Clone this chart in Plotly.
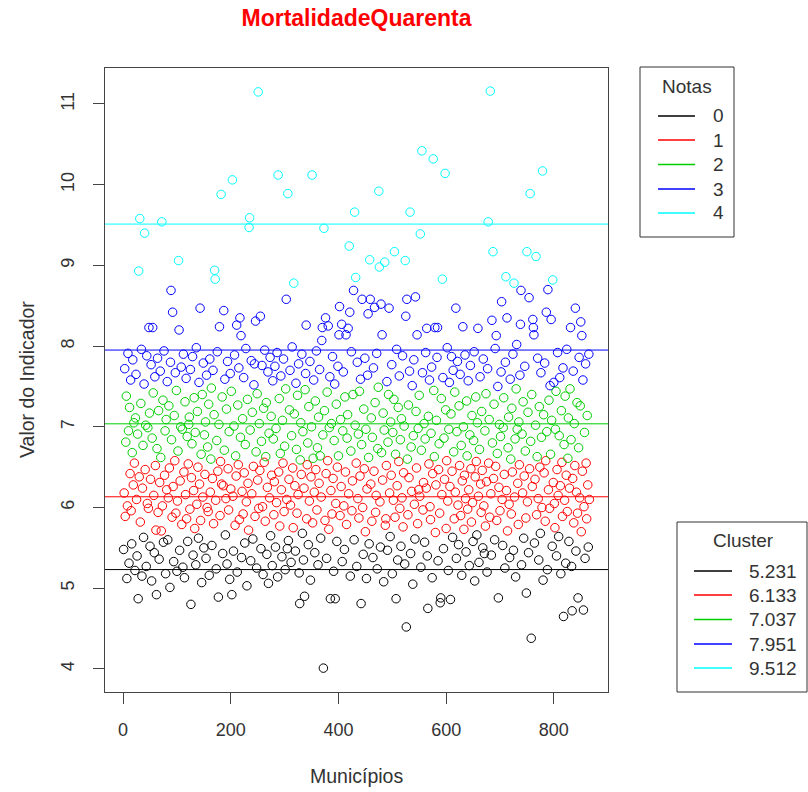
import plotly.graph_objects as go

titulo = "MortalidadeQuarenta"
eixo_x = "Municípios"
eixo_y = "Valor do Indicador"
notas = ["0", "1", "2", "3", "4"]
centros = [5.231, 6.133, 7.037, 7.951, 9.512]
cores = ["#000000", "#FF0000", "#00CD00", "#0000FF", "#00FFFF"]
x_ticks = [0, 200, 400, 600, 800]
y_ticks = [4, 5, 6, 7, 8, 9, 10, 11]

valores = [
    5.48, 6.18, 7.72, 5.89, 6.81, 7.38, 5.12, 6.02, 7.91, 6.95,
    5.31, 7.24, 6.42, 7.58, 5.96, 5.55, 6.68, 7.83, 6.28, 7.05,
    6.55, 5.22, 7.11, 7.65, 6.10, 5.40, 6.91, 4.87, 8.93, 6.38,
    9.58, 5.82, 7.29, 7.96, 5.15, 6.24, 6.77, 5.63, 7.53, 9.40,
    6.47, 7.02, 5.27, 7.88, 6.05, 6.99, 5.99, 8.23, 7.17, 5.52,
    6.35, 7.77, 5.09, 6.86, 8.23, 7.42, 6.15, 5.44, 7.62, 6.52, 5.72,
    4.92, 6.73, 7.85, 5.94, 7.20, 5.36, 6.31, 7.69, 6.62, 5.71,
    9.54, 6.02, 7.33, 5.57, 7.94, 6.40, 6.95, 5.18, 7.09, 6.22,
    7.56, 5.60, 6.12, 7.26, 6.49, 5.01, 7.80, 8.69, 6.84, 5.88,
    8.42, 6.26, 5.33, 7.14, 6.58, 7.67, 5.93, 7.45, 5.21, 6.08,
    6.70, 9.06, 8.20, 5.47, 6.33, 7.00, 7.74, 5.79, 6.97, 5.26,
    7.90, 6.44, 5.13, 7.31, 6.16, 7.60, 5.86, 6.88, 5.58, 6.54, 7.03,
    7.12, 5.98, 7.71, 4.80, 6.37, 6.79, 7.87, 5.41, 6.21, 7.36,
    5.74, 6.93, 5.29, 7.98, 6.04, 7.19, 6.50, 5.62, 7.55, 6.29,
    8.47, 5.84, 6.66, 5.07, 7.40, 6.13, 7.79, 5.50, 6.90, 6.41,
    7.06, 5.37, 7.64, 6.00, 6.75, 5.95, 7.28, 5.16, 7.84, 6.19,
    6.60, 7.48, 5.53, 6.36, 7.70, 5.80, 7.15, 8.94, 8.83, 6.09,
    5.24, 6.83, 7.93, 6.45, 4.89, 7.03, 8.24, 5.90, 6.57, 9.88, 6.29,
    7.37, 5.43, 6.27, 8.44, 6.71, 7.59, 5.66, 6.11, 7.22, 5.30,
    7.81, 6.48, 5.97, 6.94, 5.11, 7.66, 6.23, 7.44, 4.92, 10.06,
    6.14, 5.46, 7.01, 7.89, 5.78, 6.64, 6.39, 8.26, 5.20, 7.27,
    6.53, 7.73, 5.85, 8.35, 6.87, 8.13, 5.38, 6.20, 7.10, 5.92,
    7.61, 6.43, 5.56, 6.78, 7.97, 6.07, 5.03, 7.34, 6.30, 5.72,
    9.47, 9.59, 6.96, 5.34, 7.82, 6.17, 7.18, 5.61, 6.51, 7.52, 7.78,
    5.89, 8.31, 6.69, 5.25, 7.41, 6.34, 11.15, 5.99, 7.04, 6.46,
    8.37, 5.49, 6.82, 7.76, 6.01, 5.17, 7.23, 6.56, 7.95, 5.83,
    6.63, 7.30, 5.42, 6.25, 7.68, 5.06, 6.92, 6.12, 7.86, 5.65,
    7.13, 6.40, 5.28, 7.57, 6.85, 5.91, 6.32, 7.75, 5.51, 6.98,
    6.06, 7.92, 5.14, 10.12, 6.44, 7.35, 5.77, 6.67, 7.63, 6.22,
    5.39, 7.08, 6.55, 7.84, 5.95, 6.76, 5.23, 7.47, 8.58, 6.10, 5.49,
    9.89, 5.59, 6.35, 7.21, 7.70, 6.03, 5.32, 6.89, 7.99, 6.49,
    5.75, 8.78, 7.16, 6.27, 5.46, 7.54, 6.72, 5.93, 7.39, 6.16,
    7.78, 5.19, 4.81, 6.59, 7.05, 6.41, 7.90, 5.68, 6.94, 5.35,
    6.24, 4.90, 7.46, 7.66, 8.26, 5.86, 6.53, 6.80, 5.54, 7.25,
    6.08, 7.81, 5.10, 6.38, 7.00, 10.12, 5.81, 6.61, 7.58, 6.19,
    5.44, 7.32, 6.47, 7.94, 5.97, 6.74, 5.29, 7.12, 6.30, 7.71, 6.64,
    5.62, 6.13, 8.07, 8.23, 6.90, 4.01, 9.46, 7.20, 5.84, 8.35,
    6.42, 5.37, 7.43, 6.58, 8.25, 5.73, 6.99, 7.62, 4.87, 6.21,
    7.04, 5.92, 7.87, 6.36, 5.21, 6.83, 7.53, 4.87, 6.05, 7.28,
    5.58, 6.50, 7.75, 6.64, 8.14, 8.49, 5.90, 7.09, 6.26, 8.27,
    5.33, 6.95, 7.68, 6.02, 5.48, 7.37, 6.44, 8.14, 5.79, 6.86,
    7.15, 8.22, 6.17, 9.24, 8.42, 5.15, 6.70, 7.93, 5.96, 6.33, 7.40,
    8.69, 5.60, 9.66, 7.02, 8.85, 6.55, 5.27, 7.80, 6.11, 6.91,
    5.87, 7.44, 6.39, 7.59, 4.81, 6.78, 8.58, 6.00, 5.42, 7.22,
    6.48, 7.85, 5.70, 6.97, 5.12, 6.23, 7.64, 8.40, 6.62, 5.55,
    9.07, 8.58, 6.29, 7.11, 5.83, 6.87, 5.38, 7.73, 6.45, 8.48,
    7.30, 5.94, 6.15, 7.91, 5.24, 6.73, 7.49, 9.92, 8.98, 6.07,
    5.51, 8.52, 6.68, 8.14, 6.34, 7.17, 5.08, 6.96, 9.04, 5.78, 5.86,
    6.52, 7.56, 5.47, 6.81, 7.40, 8.47, 6.18, 5.64, 7.06, 6.40,
    7.77, 5.18, 6.93, 6.09, 7.34, 9.17, 5.88, 6.66, 4.87, 7.96,
    6.27, 5.35, 7.24, 6.57, 7.63, 5.99, 6.84, 5.52, 7.10, 6.12,
    7.88, 5.76, 6.43, 7.01, 5.30, 9.06, 8.37, 4.52, 8.58, 6.60,
    5.91, 7.27, 6.37, 7.69, 9.66, 5.43, 6.75, 6.20, 7.51, 5.05,
    6.89, 7.83, 6.04, 5.61, 8.61, 7.19, 6.49, 8.14, 5.80, 6.98, 6.22,
    7.39, 6.14, 9.39, 5.26, 6.71, 10.42, 7.67, 5.97, 6.31, 7.04,
    5.57, 6.85, 7.92, 6.24, 8.22, 5.40, 4.75, 7.13, 6.54, 7.58,
    6.01, 5.85, 6.92, 7.74, 5.13, 6.42, 10.32, 7.45, 6.63, 8.23,
    5.69, 6.28, 7.08, 7.86, 8.23, 5.34, 6.47, 6.79, 5.93, 4.82,
    4.88, 7.35, 6.16, 8.83, 7.61, 5.49, 6.86, 6.35, 10.14, 7.21,
    5.74, 6.58, 7.98, 6.08, 5.22, 6.97, 7.55, 6.26, 4.86, 7.16, 7.87,
    6.45, 5.63, 7.70, 6.69, 5.86, 7.43, 6.19, 8.47, 5.37, 6.94,
    7.81, 6.03, 5.54, 7.26, 6.52, 7.65, 5.90, 6.77, 5.16, 6.33,
    8.24, 7.00, 5.73, 6.40, 7.89, 6.11, 5.45, 7.32, 6.64, 5.98,
    7.57, 6.22, 5.28, 6.90, 7.76, 6.48, 5.82, 7.14, 6.06, 5.58,
    6.83, 7.93, 5.09, 6.38, 7.37, 6.57, 5.66, 7.05, 8.22, 6.14,
    5.32, 6.72, 7.62, 6.29, 5.94, 7.19, 6.46, 5.50, 7.84, 6.02, 5.43,
    6.95, 5.77, 7.41, 6.32, 5.20, 7.72, 9.54, 6.55, 7.09, 5.88,
    11.16, 6.17, 5.41, 8.32, 6.80, 9.17, 6.36, 7.28, 5.60, 7.97,
    6.51, 8.13, 5.84, 6.67, 7.50, 4.88, 6.25, 7.03, 5.96, 6.88,
    7.68, 8.55, 6.10, 5.53, 6.99, 7.36, 6.41, 5.25, 7.80, 8.86,
    6.21, 8.35, 5.71, 6.74, 7.12, 6.04, 5.38, 7.59, 6.60, 5.92,
    7.23, 6.44, 7.90, 5.47, 8.78, 6.13, 6.85, 5.14, 7.47, 8.02, 6.97,
    6.30, 5.79, 7.06, 6.53, 7.64, 8.27, 8.69, 5.29, 6.91, 6.18,
    7.31, 5.62, 6.39, 7.75, 6.70, 5.87, 4.94, 9.17, 6.07, 7.18,
    5.44, 8.60, 6.48, 9.89, 6.82, 4.38, 7.40, 6.26, 8.33, 8.23,
    8.14, 5.56, 6.35, 7.02, 9.11, 5.91, 6.63, 7.85, 6.11, 5.35,
    7.25, 6.50, 5.68, 7.67, 6.87, 6.00, 10.17, 5.10, 7.15, 6.43,
    7.79, 5.83, 6.58, 8.42, 6.94, 5.23, 8.70, 6.22, 7.33, 5.99, 7.51,
    6.66, 8.33, 7.08, 5.52, 8.82, 6.31, 7.55, 6.05, 5.75, 6.97,
    7.44, 5.40, 6.47, 7.92, 6.15, 5.64, 6.89, 7.61, 6.27, 5.18,
    7.20, 6.56, 5.89, 7.73, 4.65, 6.78, 6.09, 7.38, 5.31, 6.40,
    7.96, 5.95, 6.61, 7.11, 5.58, 6.24, 7.47, 8.23, 6.84, 5.27,
    4.72, 6.36, 7.69, 5.81, 7.04, 6.52, 8.47, 5.46, 6.19, 7.30,
    5.93, 4.88, 6.74, 7.86, 6.12, 7.26, 8.30, 5.70, 8.13, 6.45,
    7.58, 4.73, 6.01, 6.93, 5.37, 7.78, 6.55, 5.86, 7.14, 6.28,
    5.51, 7.90, 6.10,
]

municipios = list(range(1, len(valores) + 1))


def grupo(v):
    return min(range(len(centros)), key=lambda k: abs(v - centros[k]))


cor_pontos = [cores[grupo(v)] for v in valores]

# plot region in pixels (left, right, top, bottom)
L, R, T, B = 105, 608, 68, 692
W, H = 808, 792


def px(x):
    return (x - L) / (R - L)


def py(y):
    return (B - y) / (B - T)


FONT = "Liberation Sans, Arial, sans-serif"
TXT = "#333333"

fig = go.Figure()
fig.add_trace(go.Scatter(
    x=municipios, y=valores, mode="markers",
    marker=dict(symbol="circle-open", size=8.5, color=cor_pontos,
                line=dict(width=1, color=cor_pontos)),
    showlegend=False, hoverinfo="x+y",
))

shapes = []
annotations = []

# cluster centre lines
for c, cor in zip(centros, cores):
    shapes.append(dict(type="line", xref="paper", yref="y", x0=0, x1=1,
                       y0=c, y1=c, line=dict(color=cor, width=1), layer="below"))


def legenda(box, titulo_leg, titulo_pos, linhas_x, linhas_y, textos, texto_x, anchor):
    x0, x1, y0, y1 = box
    shapes.append(dict(type="rect", xref="paper", yref="paper",
                       x0=px(x0), x1=px(x1), y0=py(y1), y1=py(y0),
                       line=dict(color="#333333", width=1), fillcolor="white"))
    annotations.append(dict(text=titulo_leg, xref="paper", yref="paper",
                            x=px(titulo_pos[0]), y=py(titulo_pos[1]),
                            xanchor="center", yanchor="middle", showarrow=False,
                            font=dict(family=FONT, size=19, color=TXT)))
    for yy, cor, t in zip(linhas_y, cores, textos):
        shapes.append(dict(type="line", xref="paper", yref="paper",
                           x0=px(linhas_x[0]), x1=px(linhas_x[1]),
                           y0=py(yy), y1=py(yy), line=dict(color=cor, width=1.3)))
        annotations.append(dict(text=t, xref="paper", yref="paper",
                                x=px(texto_x), y=py(yy), xanchor=anchor,
                                yanchor="middle", showarrow=False,
                                font=dict(family=FONT, size=19, color=TXT)))


legenda((640, 734, 67, 237), "Notas", (687, 86), (658, 695),
        [116, 140, 164.5, 189, 213], notas, 718, "center")
legenda((677, 807, 522, 692), "Cluster", (743, 540), (694, 732),
        [571, 595, 619.5, 644, 668], [f"{c:.3f}" for c in centros], 799, "right")

# axis titles
annotations.append(dict(text=eixo_x, xref="paper", yref="paper",
                        x=0.5, y=py(776), xanchor="center", yanchor="middle",
                        showarrow=False, font=dict(family=FONT, size=19.5, color=TXT)))
annotations.append(dict(text=eixo_y, xref="paper", yref="paper",
                        x=px(27), y=0.5, xanchor="center", yanchor="middle",
                        textangle=-90, showarrow=False,
                        font=dict(family=FONT, size=19.5, color=TXT)))

fig.update_layout(
    width=W, height=H,
    margin=dict(l=L, r=W - R, t=T, b=H - B, pad=0),
    paper_bgcolor="white", plot_bgcolor="white",
    title=dict(text=f"<b>{titulo}</b>", x=0.5, xref="paper", xanchor="center",
               y=1 - 18 / H, yref="container", yanchor="middle",
               font=dict(family=FONT, size=23, color="#FF0000")),
    shapes=shapes, annotations=annotations, showlegend=False,
    font=dict(family=FONT, size=18, color=TXT),
)
fig.update_xaxes(range=[-33.6, 900.6], tickvals=x_ticks, ticktext=[str(v) for v in x_ticks],
                 showgrid=False, zeroline=False, showline=True, mirror=True,
                 linecolor="#444444", linewidth=1, ticks="outside", ticklen=11,
                 tickcolor="#444444", tickwidth=1, ticklabelstandoff=10,
                 tickfont=dict(family=FONT, size=18, color=TXT))
fig.update_yaxes(range=[3.714, 11.446], tickvals=y_ticks, ticktext=[str(v) for v in y_ticks],
                 showgrid=False, zeroline=False, showline=True, mirror=True,
                 linecolor="#444444", linewidth=1, ticks="outside", ticklen=11,
                 tickcolor="#444444", tickwidth=1, tickangle=-90, ticklabelstandoff=12,
                 tickfont=dict(family=FONT, size=18, color=TXT))

fig.write_html("out.html", config={"displayModeBar": False})
